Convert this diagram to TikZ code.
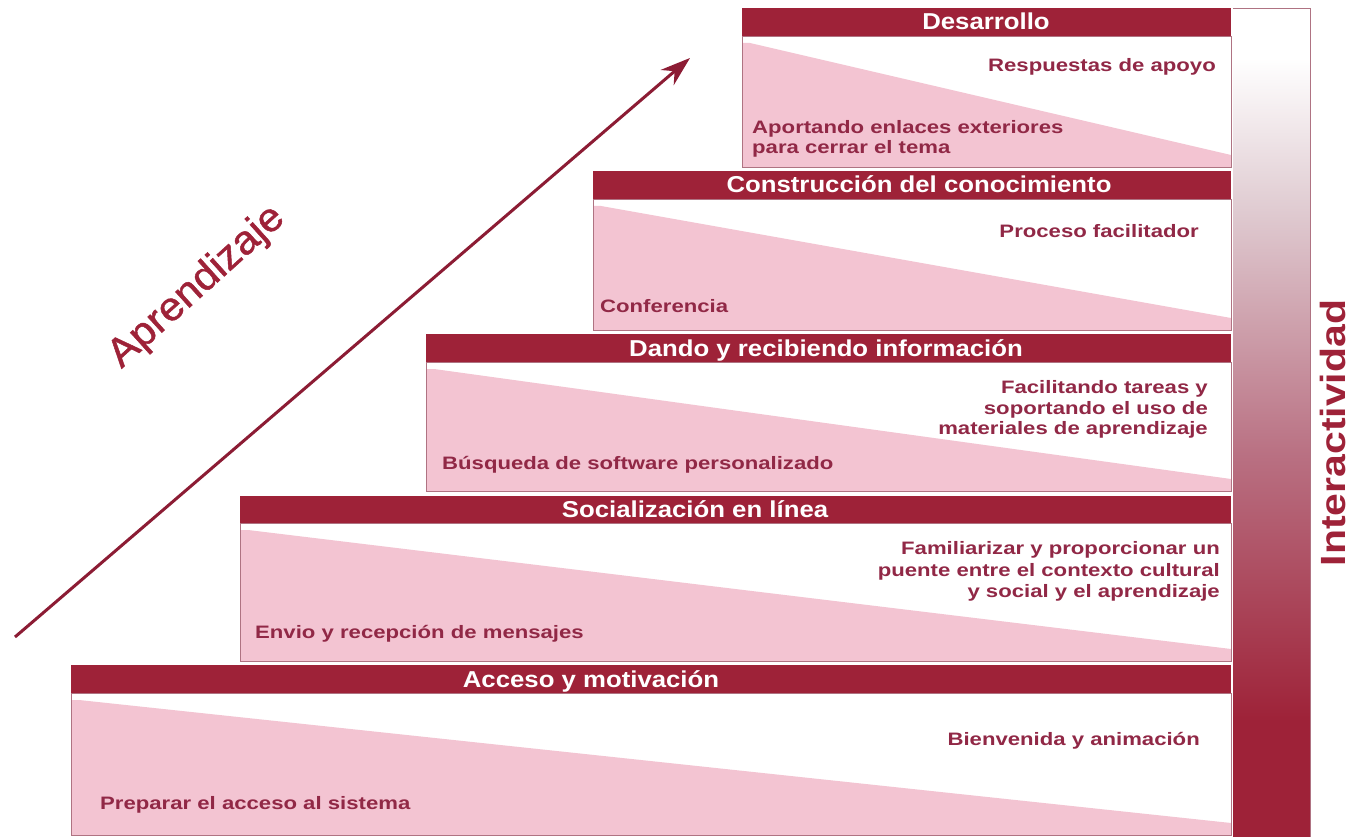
\documentclass[tikz,border=0pt]{standalone}
\usepackage{fontspec}
\setmainfont{Liberation Sans}
\newfontfamily\hdrfont[FakeStretch=1.12]{Liberation Sans}
\newfontfamily\bodyfont[FakeStretch=1.23]{Liberation Sans}
\newfontfamily\sidefont[FakeStretch=1.17]{Liberation Sans}
\newfontfamily\aprfont[FakeStretch=1.05,FakeBold=1.2]{Liberation Sans}
\usetikzlibrary{arrows.meta}
\definecolor{hdr}{RGB}{158,34,56}
\definecolor{txt}{RGB}{145,40,70}
\definecolor{pinkf}{RGB}{243,196,210}
\definecolor{edgec}{RGB}{175,115,130}
\definecolor{arr}{RGB}{140,28,52}
\definecolor{hdrmid}{RGB}{185,112,130}
\definecolor{grayl}{RGB}{224,204,210}
\pgfdeclareverticalshading{interact}{100bp}{color(0bp)=(hdr); color(32bp)=(hdr); color(48bp)=(hdrmid); color(63bp)=(grayl); color(72bp)=(white); color(100bp)=(white)}
\tikzset{
  hdrtext/.style={anchor=base, inner sep=0pt, text=white, font=\hdrfont\bfseries\fontsize{23}{26}\selectfont},
  bodyl/.style={anchor=base west, inner sep=0pt, text=txt, font=\bodyfont\bfseries\fontsize{18}{20.7}\selectfont},
  bodyr/.style={anchor=base east, inner sep=0pt, text=txt, font=\bodyfont\bfseries\fontsize{18}{20.7}\selectfont},
  bodyline/.style={draw=edgec, line width=0.9pt},
}
% #1 x0, #2 header top, #3 header bottom, #4 body bottom
\newcommand\stairbox[4]{%
  \fill[white] (#1,#3) rectangle (1231,#4);
  \fill[pinkf] (#1+8,#3+7) -- (1231,#4-12) -- (1231,#4) -- (#1,#4) -- (#1,#3+7) -- cycle;
  \draw[bodyline] (#1,#3) rectangle (1231,#4);
  \fill[hdr] (#1,#2) rectangle (1231,#3);
}
\begin{document}
\begin{tikzpicture}[x=1pt,y=-1pt]
\useasboundingbox (0,0) rectangle (1354,837);
\fill[white] (0,0) rectangle (1354,837);

% Interactividad bar
\shade[shading=interact] (1233,8) rectangle (1310,837);
\draw[edgec, line width=0.9pt] (1233,8) -- (1310,8) -- (1310,837);

% stairs
\stairbox{742}{8}{36}{167}
\stairbox{593}{171}{199}{330}
\stairbox{426}{334}{362}{491}
\stairbox{240}{496}{523}{661}
\stairbox{71}{665}{693}{835}

% headers
\node[hdrtext] (h1) at (986,30) {Desarrollo};
\node[hdrtext] (h2) at (919,193) {Construcción del conocimiento};
\node[hdrtext] (h3) at (826,356) {Dando y recibiendo información};
\node[hdrtext] (h4) at (695,517) {Socialización en línea};
\node[hdrtext] (h5) at (591,687) {Acceso y motivación};

% body texts
\node[bodyr] (d1) at (1216,72) {Respuestas de apoyo};
\node[bodyl] (d2) at (752,134) {Aportando enlaces exteriores};
\node[bodyl] (d3) at (752,154) {para cerrar el tema};

\node[bodyr] (c1) at (1199,237) {Proceso facilitador};
\node[bodyl] (c2) at (600,312) {Conferencia};

\node[bodyr] (r1) at (1208,393) {Facilitando tareas y};
\node[bodyr] (r2) at (1208,414) {soportando el uso de};
\node[bodyr] (r3) at (1208,434) {materiales de aprendizaje};
\node[bodyl] (r4) at (442,469) {Búsqueda de software personalizado};

\node[bodyr] (s1) at (1220,554) {Familiarizar y proporcionar un};
\node[bodyr] (s2) at (1220,576) {puente entre el contexto cultural};
\node[bodyr] (s3) at (1220,597) {y social y el aprendizaje};
\node[bodyl] (s4) at (255,638) {Envio y recepción de mensajes};

\node[bodyr] (a1) at (1200,745) {Bienvenida y animación};
\node[bodyl] (a2) at (100,809) {Preparar el acceso al sistema};

% arrow
\coordinate (ar0) at (15,637);
\coordinate (ar1) at (690,58);
\draw[arr, line width=3pt, -{Stealth[length=30pt,width=20pt]}] (ar0) -- (ar1);

% side labels
\node[anchor=center, inner sep=0pt, rotate=42, text=hdr, font=\aprfont\fontsize{40}{44}\selectfont] (apr) at (197,287) {Aprendizaje};
\node[anchor=base, inner sep=0pt, rotate=90, text=hdr, font=\sidefont\bfseries\fontsize{35}{38}\selectfont] (inter) at (1345,433) {Interactividad};
\end{tikzpicture}
\end{document}
